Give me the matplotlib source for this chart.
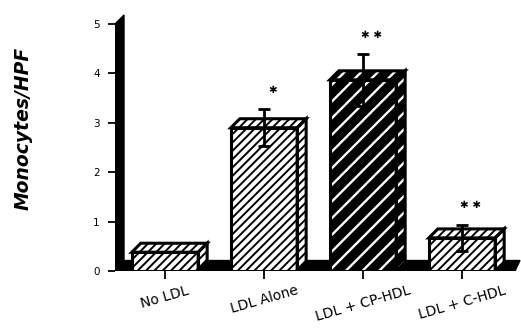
import matplotlib
matplotlib.use("Agg")
import matplotlib.pyplot as plt
from matplotlib.patches import Polygon
import numpy as np

categories = ["No LDL", "LDL Alone", "LDL + CP-HDL", "LDL + C-HDL"]
values = [0.38, 2.9, 3.87, 0.67]
errors = [0.0, 0.37, 0.52, 0.27]
stars = ["", "✱", "✱ ✱", "✱ ✱"]
dark = [False, False, True, False]
yticks = [0, 1, 2, 3, 4, 5]
ylabel = "Monocytes/HPF"

W, H = 521, 329
fig = plt.figure(figsize=(W / 100, H / 100), dpi=100)

# pixel geometry
px_left, px_right = 115, 521
px_zero, px_per_unit = 271, 49.4
px_cat0, px_per_cat = 165, 99
ylim_top = 5.3
ax = fig.add_axes([px_left / W, (H - px_zero) / H,
                   (px_right - px_left) / W, ylim_top * px_per_unit / H])
x0 = (px_left - px_cat0) / px_per_cat
x1 = (px_right - px_cat0) / px_per_cat
ax.set_xlim(x0, x1)
ax.set_ylim(0, ylim_top)
for s in ax.spines.values():
    s.set_visible(False)

dx = 9 / px_per_cat
dy = 9 / px_per_unit
bw = 0.67

# back wall
ax.add_patch(Polygon([(x0, 0), (x0, 5.0), (x0 + dx, 5.0 + dy), (x0 + dx, dy)],
                     closed=True, fc="black", ec="black", lw=1, zorder=1))
# floor
xr_b = (515 - px_cat0) / px_per_cat
xr_t = (520 - px_cat0) / px_per_cat
ax.add_patch(Polygon([(x0, 0), (xr_b, 0), (xr_t, dy + 0.03), (x0 + dx, dy + 0.03)],
                     closed=True, fc="black", ec="black", lw=1, zorder=1))

xs = np.arange(len(categories))
for x, v, d in zip(xs, values, dark):
    L, R = x - bw / 2, x + bw / 2
    front = [(L, 0), (R, 0), (R, v), (L, v)]
    top = [(L, v), (R, v), (R + dx, v + dy), (L + dx, v + dy)]
    side = [(R, 0), (R + dx, dy), (R + dx, v + dy), (R, v)]
    if d:
        plt.rcParams["hatch.linewidth"] = 1.7
        fc, hc, hatch = "black", "white", "//"
    else:
        plt.rcParams["hatch.linewidth"] = 1.4
        fc, hc, hatch = "white", "black", "////"
    for poly in (side, top, front):
        ax.add_patch(Polygon(poly, closed=True, fc=fc, ec=hc, hatch=hatch,
                             lw=0, zorder=2))
        ax.add_patch(Polygon(poly, closed=True, fc="none", ec="black",
                             lw=2.2, joinstyle="miter", zorder=3))

for x, v, e, s in zip(xs, values, errors, stars):
    if e > 0:
        ax.errorbar(x, v, yerr=e, fmt="none", ecolor="black", elinewidth=2,
                    capsize=4, capthick=2, zorder=4)
    if s:
        ax.annotate(s, (x + 0.09, v + e), xytext=(0, 14), textcoords="offset points",
                    ha="center", va="center", fontsize=7.5, fontweight="bold",
                    family="DejaVu Sans")

ax.set_yticks(yticks)
ax.set_yticklabels([str(t) for t in yticks], fontsize=7.5,
                   family="DejaVu Sans")
ax.tick_params(axis="y", direction="out", length=5, width=1.3, pad=6)
ax.set_xticks(xs)
ax.set_xticklabels(categories, rotation=16, ha="center", fontsize=10,
                   family="DejaVu Sans")
ax.tick_params(axis="x", direction="out", length=6, width=1.3, pad=3)
for lbl in ax.get_xticklabels():
    lbl.set_x(lbl.get_position()[0] + 0.05)

fig.text(23 / W, 1 - 128 / H, ylabel, rotation=90, ha="center", va="center",
         fontsize=13.5, fontweight="bold", fontstyle="italic", family="DejaVu Sans")

fig.savefig("out.png", dpi=100)
